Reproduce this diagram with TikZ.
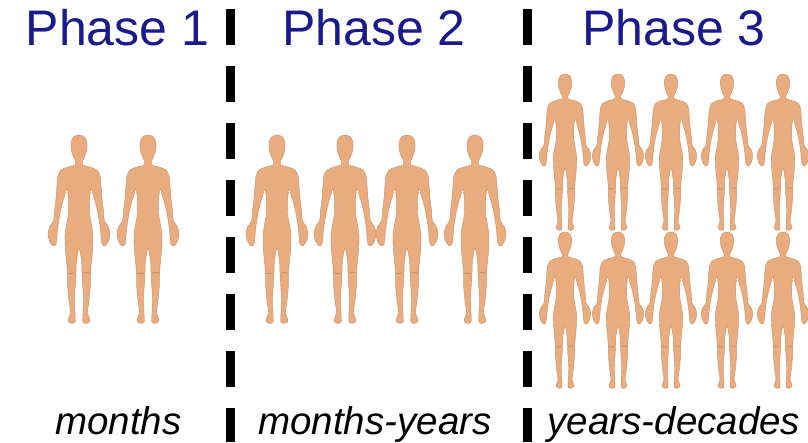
\documentclass[tikz,border=0pt]{standalone}
\usepackage{fontspec}
\setmainfont{Liberation Sans}
\usepackage{tikz}
\usetikzlibrary{positioning}

\definecolor{skin}{RGB}{232,172,126}
\definecolor{skinline}{RGB}{205,145,105}
\definecolor{phaseblue}{RGB}{26,26,140}

\tikzset{
  phase/.style={anchor=base, text=phaseblue, font=\fontsize{50}{50}\selectfont},
  span/.style={anchor=base, font=\fontsize{38.5}{38.5}\selectfont\itshape},
  divider/.style={line width=9pt, dash pattern=on 36pt off 21pt},
  person/.pic={
    \fill[skin, draw=skinline, line width=0.4pt] plot[smooth cycle, tension=0.5] coordinates {
      (0,188) (5.5,186) (8,180) (7.5,172) (5.5,166) (3.5,162) (4,158) (11,156) (18,153)
      (21,147) (22,138) (23,125) (24.5,112) (25.5,102) (29,97) (31,90) (29.5,82) (26,77)
      (23,79) (22,87) (21,97) (18.5,112) (14.5,127) (12,134) (10.5,122) (10.5,110) (12.5,98)
      (14,88) (13.5,72) (12,56) (11.5,47) (11.5,38) (10,22) (8.5,10) (11,3) (9,0) (4,0.5)
      (4,10) (4.5,25) (3.5,40) (3,50) (2.5,62) (0,75)
      (-2.5,62) (-3,50) (-3.5,40) (-4.5,25) (-4,10) (-4,0.5) (-9,0) (-11,3) (-8.5,10)
      (-10,22) (-11.5,38) (-11.5,47) (-12,56) (-13.5,72) (-14,88) (-12.5,98) (-10.5,110)
      (-10.5,122) (-12,134) (-14.5,127) (-18.5,112) (-21,97) (-22,87) (-23,79) (-26,77)
      (-29.5,82) (-31,90) (-29,97) (-25.5,102) (-24.5,112) (-23,125) (-22,138) (-21,147)
      (-18,153) (-11,156) (-4,158) (-3.5,162) (-5.5,166) (-7.5,172) (-8,180) (-5.5,186)};
    % knees
    \draw[skinline, line width=0.8pt] (-11,50) to[bend right=20] (-4,50)
      (4,50) to[bend left=20] (11,50);
  }
}

\begin{document}
\begin{tikzpicture}[x=1pt, y=1pt]
\useasboundingbox (0,0) rectangle (808,442);
\clip (0,0) rectangle (808,442);

% dividers
\coordinate (d1top) at (230,433);
\coordinate (d1bot) at (230,0);
\coordinate (d2top) at (527,433);
\coordinate (d2bot) at (527,0);
\draw[divider] (d1top) -- (d1bot);
\draw[divider] (d2top) -- (d2bot);

% titles
\node[phase] (ph1) at (117.5,396.5) {Phase 1};
\node[phase] (ph2) at (374,396.5) {Phase 2};
\node[phase] (ph3) at (674,396.5) {Phase 3};

% people
\foreach \x in {79,148}
  \pic at (\x,119) {person};
\foreach \x in {277,345,407,475}
  \pic at (\x,119) {person};
\foreach \x in {565,618,671,727,783} {
  \pic[scale=0.83] at (\x,212) {person};
  \pic[scale=0.83] at (\x,54) {person};
}

% time spans
\node[span] (t1) at (118.5,8) {months};
\node[span] (t2) at (375,8) {months-years};
\node[span] (t3) at (674,8) {years-decades};
\end{tikzpicture}
\end{document}
